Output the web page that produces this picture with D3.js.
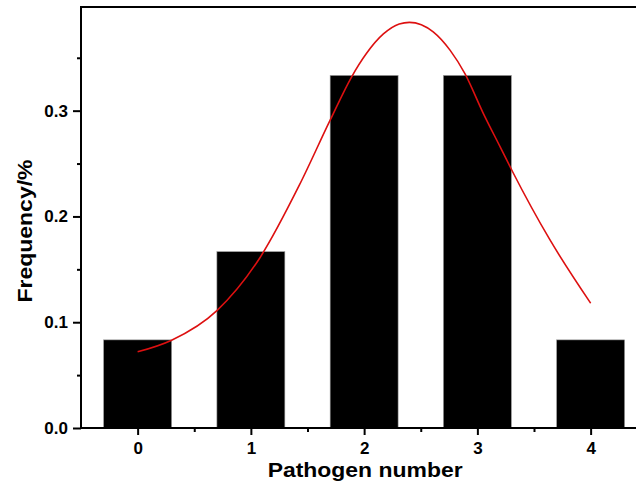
<!DOCTYPE html>
<html>
<head>
<meta charset="utf-8">
<script src="https://cdn.jsdelivr.net/npm/d3@7"></script>
<style>
  body { margin: 0; background: #fff; }
  svg { display: block; font-family: "Liberation Sans", Arial, sans-serif; }
</style>
</head>
<body>
<script>
// pathogen number categories and their frequencies
const categories = [0, 1, 2, 3, 4];
const frequency = [0.0833, 0.1667, 0.3333, 0.3333, 0.0833];

// fitted curve
const fitX = [0, 0.30, 0.70, 1.08, 1.43, 1.70, 1.89, 2.02, 2.17, 2.31, 2.40, 2.61, 2.76, 2.89, 3.05, 3.20, 3.31, 3.64, 4.0];
const fitY = [0.072, 0.083, 0.111, 0.161, 0.230, 0.291, 0.332, 0.354, 0.3725, 0.382, 0.3835, 0.3745, 0.357, 0.335, 0.298, 0.266, 0.2425, 0.178, 0.118];

const yTicks = [0, 0.1, 0.2, 0.3];
const yMinor = [0.05, 0.15, 0.25, 0.35];
const xMinor = [0.5, 1.5, 2.5, 3.5];

const w = 636;
const h = 484;
const padLeft = 81, padTop = 7, baseY = 428;

const svg = d3.select("body").append("svg")
  .attr("width", w)
  .attr("height", h);

const x = d3.scaleLinear().domain([-0.5, 4.5]).range([padLeft, padLeft + 5 * 113.25]);
const y = d3.scaleLinear().domain([0, 0.398]).range([baseY, padTop]);

// bars
svg.append("g")
  .selectAll("rect")
  .data(categories)
  .enter()
  .append("rect")
  .attr("x", d => x(d - 0.3))
  .attr("width", x(0.6) - x(0))
  .attr("y", (d, i) => y(frequency[i]))
  .attr("height", (d, i) => y(0) - y(frequency[i]))
  .style("fill", "#000")
  .style("stroke", "#999")
  .style("stroke-width", 0.6);

// fit line
const line = d3.line()
  .x(d => x(d[0]))
  .y(d => y(d[1]))
  .curve(d3.curveMonotoneX);
svg.append("path")
  .datum(fitX.map((v, i) => [v, fitY[i]]))
  .attr("d", line)
  .style("fill", "none")
  .style("stroke", "#dd1010")
  .style("stroke-width", 1.6);

// axes
svg.append("g")
  .attr("transform", `translate(${padLeft},0)`)
  .call(d3.axisLeft(y).tickValues(yTicks).tickFormat(d3.format(".1f")).tickSize(8).tickPadding(5));
svg.append("g")
  .attr("transform", `translate(${padLeft},0)`)
  .call(d3.axisLeft(y).tickValues(yMinor).tickFormat("").tickSize(4));

svg.append("g")
  .attr("transform", `translate(0,${baseY})`)
  .call(d3.axisBottom(x).tickValues(categories).tickFormat(d3.format("d")).tickSize(7).tickPadding(7));
svg.append("g")
  .attr("transform", `translate(0,${baseY})`)
  .call(d3.axisBottom(x).tickValues(xMinor).tickFormat("").tickSize(4));

svg.selectAll(".domain").remove();
svg.selectAll(".tick line").style("stroke", "#000").style("stroke-width", 2);
svg.selectAll(".tick text")
  .style("font-size", "17px")
  .style("font-weight", "bold")
  .style("fill", "#000");

// frame (right side falls outside the picture)
svg.append("rect")
  .attr("x", padLeft)
  .attr("y", padTop)
  .attr("width", x(4.5) - padLeft)
  .attr("height", baseY - padTop)
  .style("fill", "none")
  .style("stroke", "#000")
  .style("stroke-width", 2);

// titles
svg.append("text")
  .attr("x", x(2) + 1)
  .attr("y", 477)
  .attr("text-anchor", "middle")
  .attr("textLength", 195)
  .attr("lengthAdjust", "spacingAndGlyphs")
  .style("font-size", "20.5px")
  .style("font-weight", "bold")
  .text("Pathogen number");

svg.append("text")
  .attr("transform", `translate(32,231) rotate(-90)`)
  .attr("text-anchor", "middle")
  .attr("textLength", 143)
  .attr("lengthAdjust", "spacingAndGlyphs")
  .style("font-size", "20.5px")
  .style("font-weight", "bold")
  .text("Frequency/%");
</script>
</body>
</html>
